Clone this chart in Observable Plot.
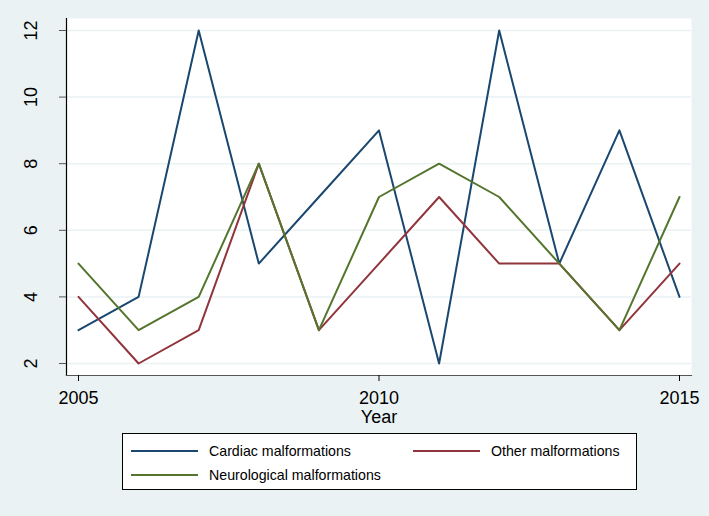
<!DOCTYPE html>
<html>
<head>
<meta charset="utf-8">
<script src="https://cdn.jsdelivr.net/npm/d3@7"></script>
<script src="https://cdn.jsdelivr.net/npm/@observablehq/plot@0.6"></script>
<style>
  html, body { margin: 0; padding: 0; background: #eaf2f3; }
  #wrap { position: relative; width: 709px; height: 516px; background: #eaf2f3; font-family: "Liberation Sans", Arial, sans-serif; }
  #chart svg { display: block; }
  #legend { position: absolute; left: 122px; top: 433px; width: 515px; height: 57px; background: #fff; border: 1px solid #000; box-sizing: border-box; }
  .item { position: absolute; height: 20px; }
  .swatch { position: absolute; top: 9px; width: 67px; height: 2px; }
  .label { position: absolute; left: 78px; top: 0; font-size: 14.2px; line-height: 20px; color: #000; white-space: nowrap; }
</style>
</head>
<body>
<div id="wrap">
  <div id="chart"></div>
  <div id="legend"></div>
</div>
<script>
const years = [2005, 2006, 2007, 2008, 2009, 2010, 2011, 2012, 2013, 2014, 2015];
const cardiac = [3, 4, 12, 5, 7, 9, 2, 12, 5, 9, 4];
const other = [4, 2, 3, 8, 3, 5, 7, 5, 5, 3, 5];
const neurological = [5, 3, 4, 8, 3, 7, 8, 7, 5, 3, 7];
const seriesNames = ["Cardiac malformations", "Other malformations", "Neurological malformations"];
const seriesColors = ["#1a476f", "#90353b", "#55752f"];
const yTicks = [2, 4, 6, 8, 10, 12];
const xTicks = [2005, 2010, 2015];
const xTitle = "Year";

const seriesValues = [cardiac, other, neurological];
const data = seriesNames.flatMap((name, s) =>
  years.map((yr, i) => ({ year: yr, value: seriesValues[s][i], series: name }))
);

const chart = Plot.plot({
  width: 709,
  height: 435,
  marginLeft: 66,
  marginRight: 18,
  marginTop: 18,
  marginBottom: 60,
  style: { background: "transparent", fontFamily: "Liberation Sans, Arial, sans-serif", color: "#000" },
  x: { domain: [2005, 2015], insetLeft: 12, insetRight: 12 },
  y: { domain: [2, 12], insetTop: 12, insetBottom: 12 },
  color: { domain: seriesNames, range: seriesColors },
  marks: [
    Plot.frame({ fill: "#fff", stroke: null }),
    Plot.gridY(yTicks, { stroke: "#eaf2f3", strokeOpacity: 1, strokeWidth: 1.5 }),
    Plot.line(data, { x: "year", y: "value", z: "series", stroke: "series", strokeWidth: 2 }),
    Plot.frame({ anchor: "left", stroke: "#000", strokeWidth: 1.2 }),
    Plot.frame({ anchor: "bottom", stroke: "#555", strokeWidth: 1.2 }),
    Plot.axisY(yTicks, { tickSize: 7, stroke: "#555", tickFormat: () => "", label: null }),
    Plot.text(yTicks, { y: d => d, frameAnchor: "left", dx: -35, rotate: -90, textAnchor: "middle", lineAnchor: "middle", fontSize: 18, fill: "#000", text: d => String(d) }),
    Plot.axisX(xTicks, { tickSize: 6, stroke: "#000", fontSize: 18, tickFormat: d => String(d), tickPadding: 10, label: null }),
    Plot.text([xTitle], { frameAnchor: "bottom", lineAnchor: "middle", dy: 42, fontSize: 18, fill: "#000" })
  ]
});
document.getElementById("chart").appendChild(chart);

const legend = document.getElementById("legend");
const pos = [[8, 7], [290, 7], [8, 31]];
seriesNames.forEach((name, i) => {
  const it = document.createElement("div");
  it.className = "item";
  it.style.left = pos[i][0] + "px";
  it.style.top = pos[i][1] + "px";
  const sw = document.createElement("div");
  sw.className = "swatch";
  sw.style.background = seriesColors[i];
  const lb = document.createElement("div");
  lb.className = "label";
  lb.textContent = name;
  it.appendChild(sw);
  it.appendChild(lb);
  legend.appendChild(it);
});
</script>
</body>
</html>
